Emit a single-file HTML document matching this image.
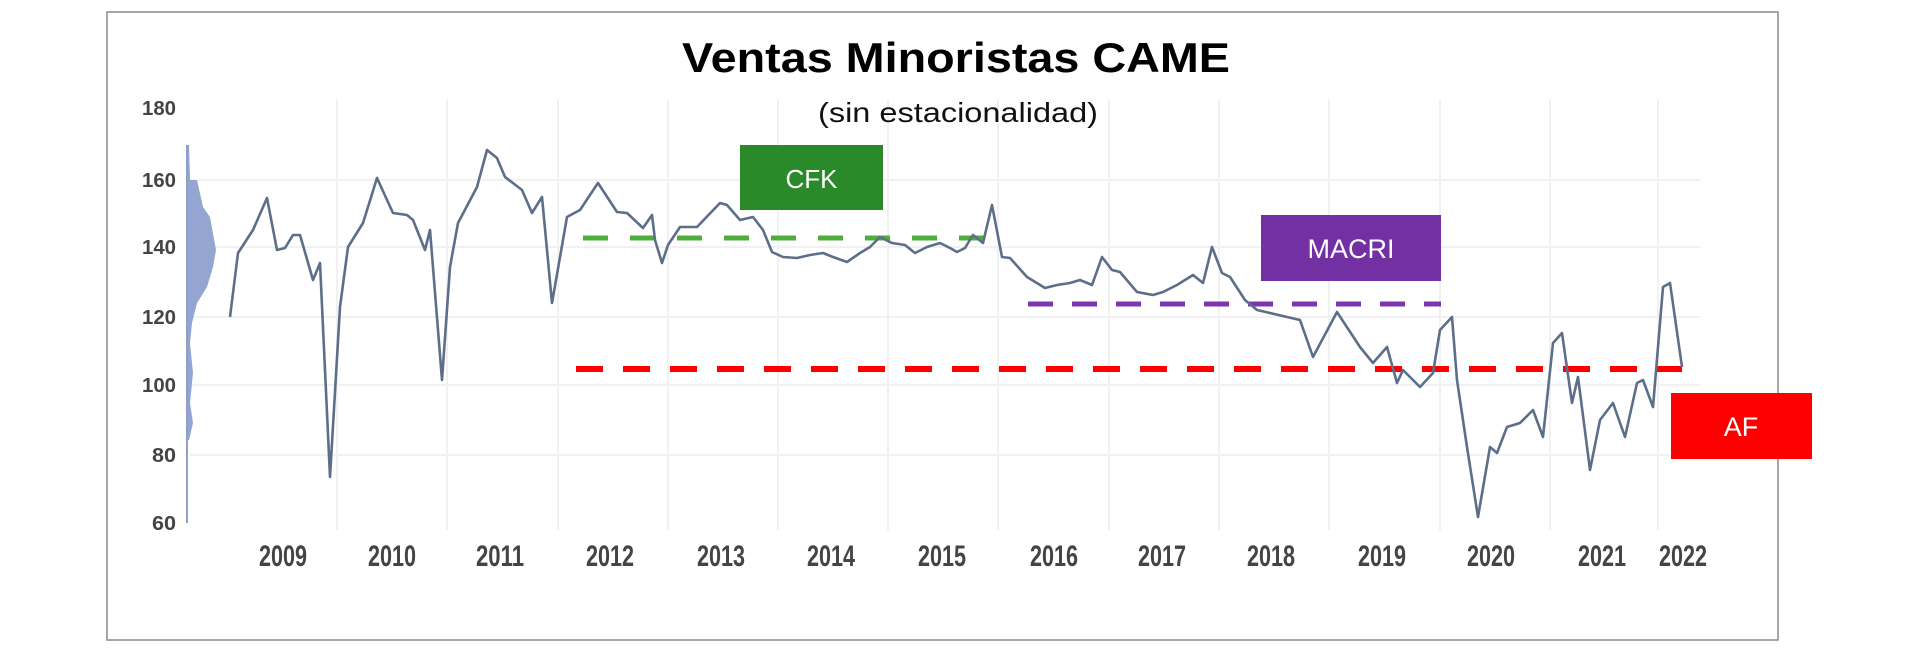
<!DOCTYPE html>
<html><head><meta charset="utf-8"><style>
html,body{margin:0;padding:0;background:#fff;}
svg{display:block;}
</style></head><body>
<svg width="1920" height="651" viewBox="0 0 1920 651" xmlns="http://www.w3.org/2000/svg" font-family="Liberation Sans, sans-serif">
<rect x="0" y="0" width="1920" height="651" fill="#fff"/>
<rect x="107" y="12" width="1671" height="628" fill="#fff" stroke="#8a8a8a" stroke-width="1.5"/>
<!-- grid -->
<g stroke="#f1f1f1" stroke-width="2">
<line x1="190" y1="180" x2="1700" y2="180"/>
<line x1="190" y1="247" x2="1700" y2="247"/>
<line x1="190" y1="317" x2="1700" y2="317"/>
<line x1="190" y1="385" x2="1700" y2="385"/>
<line x1="190" y1="455" x2="1700" y2="455"/>
<line x1="337" y1="100" x2="337" y2="530"/>
<line x1="447" y1="100" x2="447" y2="530"/>
<line x1="558" y1="100" x2="558" y2="530"/>
<line x1="668" y1="100" x2="668" y2="530"/>
<line x1="778" y1="100" x2="778" y2="530"/>
<line x1="888" y1="100" x2="888" y2="530"/>
<line x1="998" y1="100" x2="998" y2="530"/>
<line x1="1109" y1="100" x2="1109" y2="530"/>
<line x1="1219" y1="100" x2="1219" y2="530"/>
<line x1="1329" y1="100" x2="1329" y2="530"/>
<line x1="1440" y1="100" x2="1440" y2="530"/>
<line x1="1550" y1="100" x2="1550" y2="530"/>
<line x1="1658" y1="100" x2="1658" y2="530"/>
</g>
<!-- title -->
<text x="682" y="72" font-size="42" font-weight="bold" fill="#000" textLength="548" lengthAdjust="spacingAndGlyphs">Ventas Minoristas CAME</text>
<text x="818" y="122" font-size="28" fill="#111" textLength="280" lengthAdjust="spacingAndGlyphs">(sin estacionalidad)</text>
<!-- y labels -->
<g font-size="20" fill="#444" text-anchor="end" font-weight="bold">
<text x="176" y="115" textLength="34" lengthAdjust="spacingAndGlyphs">180</text>
<text x="176" y="187" textLength="34" lengthAdjust="spacingAndGlyphs">160</text>
<text x="176" y="254" textLength="34" lengthAdjust="spacingAndGlyphs">140</text>
<text x="176" y="324" textLength="34" lengthAdjust="spacingAndGlyphs">120</text>
<text x="176" y="392" textLength="34" lengthAdjust="spacingAndGlyphs">100</text>
<text x="176" y="462" textLength="24" lengthAdjust="spacingAndGlyphs">80</text>
<text x="176" y="530" textLength="24" lengthAdjust="spacingAndGlyphs">60</text>
</g>
<!-- histogram -->
<polygon fill="#93a5d0" points="187,145 189,145 190,180 197,180 203,207 210,217 216,250 213,267 207,287 197,303 192,323 190,343 193,373 190,403 193,423 189,440 187,440"/>
<line x1="187" y1="145" x2="187" y2="523" stroke="#8ea0c8" stroke-width="2"/>
<!-- year labels -->
<g font-size="30" fill="#444" text-anchor="middle" font-weight="bold">
<text x="283" y="566" textLength="48" lengthAdjust="spacingAndGlyphs">2009</text>
<text x="392" y="566" textLength="48" lengthAdjust="spacingAndGlyphs">2010</text>
<text x="500" y="566" textLength="48" lengthAdjust="spacingAndGlyphs">2011</text>
<text x="610" y="566" textLength="48" lengthAdjust="spacingAndGlyphs">2012</text>
<text x="721" y="566" textLength="48" lengthAdjust="spacingAndGlyphs">2013</text>
<text x="831" y="566" textLength="48" lengthAdjust="spacingAndGlyphs">2014</text>
<text x="942" y="566" textLength="48" lengthAdjust="spacingAndGlyphs">2015</text>
<text x="1054" y="566" textLength="48" lengthAdjust="spacingAndGlyphs">2016</text>
<text x="1162" y="566" textLength="48" lengthAdjust="spacingAndGlyphs">2017</text>
<text x="1271" y="566" textLength="48" lengthAdjust="spacingAndGlyphs">2018</text>
<text x="1382" y="566" textLength="48" lengthAdjust="spacingAndGlyphs">2019</text>
<text x="1491" y="566" textLength="48" lengthAdjust="spacingAndGlyphs">2020</text>
<text x="1602" y="566" textLength="48" lengthAdjust="spacingAndGlyphs">2021</text>
<text x="1683" y="566" textLength="48" lengthAdjust="spacingAndGlyphs">2022</text>
</g>
<!-- dashed lines -->
<line x1="583" y1="238" x2="991" y2="238" stroke="#4caf3c" stroke-width="5" stroke-dasharray="25,22"/>
<line x1="1028" y1="304" x2="1441" y2="304" stroke="#7b35b0" stroke-width="5" stroke-dasharray="25,19"/>
<line x1="576" y1="369" x2="1682" y2="369" stroke="#ff0000" stroke-width="6" stroke-dasharray="27,20"/>
<!-- series -->
<polyline fill="none" stroke="#5d6e88" stroke-width="2.6" stroke-linejoin="round" points="
230,317 238,253 253,230 267,198 277,250 285,248 293,235 300,235 313,280 320,263 330,477 340,307 348,247 363,223 377,178 393,213 407,215 413,220 425,250 430,230 442,380 450,267 458,223 477,187 487,150 497,158 505,177 522,190 532,213 542,197 552,303 567,217 580,210 598,183
617,212 627,213 643,228 652,215 655,240 662,263 668,245 680,227 697,227 720,203 727,205 740,220 753,217 763,230 772,252 783,257 797,258 810,255 823,253 833,257 847,262 860,253 870,247 880,237 892,243 905,245 915,253 927,247 940,243 950,248
957,252 965,248 973,235 983,243 992,205 1002,257 1010,258 1027,277 1045,288 1057,285 1070,283 1080,280 1092,285 1102,257 1112,270 1120,272 1137,292 1153,295 1163,292 1177,285 1193,275 1203,283 1212,247 1222,273 1230,277 1245,300 1257,310 1270,313 1287,317 1300,320
1313,357 1337,312 1360,347 1373,363 1387,347 1397,383 1403,370 1420,387 1433,373 1440,330 1452,317 1457,380 1467,447 1478,517 1490,447 1497,453 1507,427 1520,423 1533,410 1543,437 1553,343 1562,333 1572,403 1578,377 1590,470 1600,420 1613,403 1625,437 1637,383 1643,380 1653,407 1663,287 1670,283 1682,367"/>
<!-- boxes -->
<rect x="740" y="145" width="143" height="65" fill="#2a8a2a"/>
<text x="811.5" y="188" font-size="26" fill="#fff" text-anchor="middle">CFK</text>
<rect x="1261" y="215" width="180" height="66" fill="#7330a3"/>
<text x="1351" y="258" font-size="27" fill="#fff" text-anchor="middle">MACRI</text>
<rect x="1671" y="393" width="141" height="66" fill="#ff0000"/>
<text x="1741" y="436" font-size="27" fill="#fff" text-anchor="middle">AF</text>
</svg>
</body></html>
